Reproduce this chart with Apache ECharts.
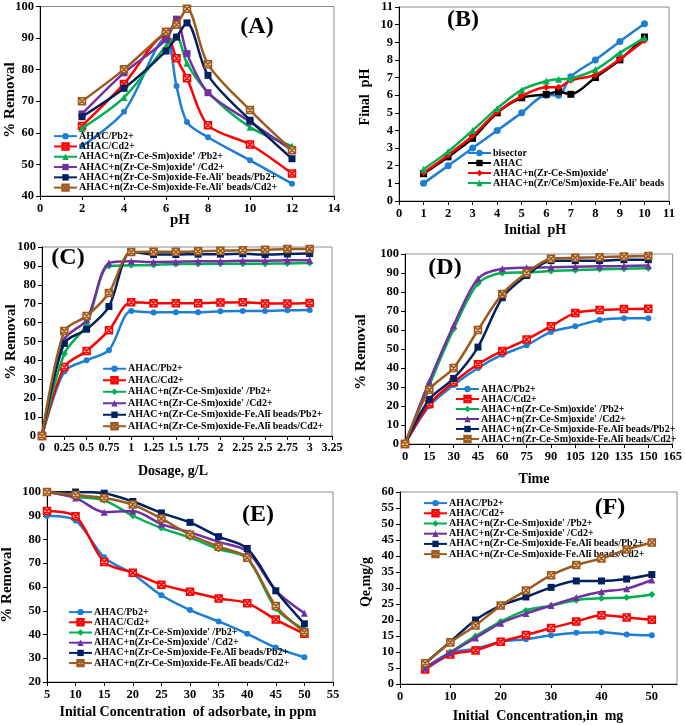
<!DOCTYPE html>
<html><head><meta charset="utf-8">
<script src="https://cdn.jsdelivr.net/npm/echarts@6/dist/echarts.min.js"></script>
<style>html,body{margin:0;padding:0;background:#fff}#c{width:685px;height:725px}</style>
</head><body><div id="c"></div>
<script>
// ---------- DATA ----------
const namesA = ['AHAC/Pb2+','AHAC/Cd2+','AHAC+n(Zr-Ce-Sm)oxide\u2019 /Pb2+','AHAC+n(Zr-Ce-Sm)oxide\u2019 /Cd2+',"AHAC+n(Zr-Ce-Sm)oxide-Fe.Ali' beads/Pb2+","AHAC+n(Zr-Ce-Sm)oxide-Fe.Ali' beads/Cd2+"];
const namesCF = ['AHAC/Pb2+','AHAC/Cd2+',"AHAC+n(Zr-Ce-Sm)oxide' /Pb2+","AHAC+n(Zr-Ce-Sm)oxide' /Cd2+",'AHAC+n(Zr-Ce-Sm)oxide-Fe.Alĩ beads/Pb2+','AHAC+n(Zr-Ce-Sm)oxide-Fe.Alĩ beads/Cd2+'];
const namesB = ['bisector','AHAC',"AHAC+n(Zr-Ce-Sm)oxide'","AHAC+n(Zr/Ce/Sm)oxide-Fe.Ali' beads"];

// (A) pH effect
const xA = [2,4,6,6.5,7,8,10,12];
const A_pb   = [55.8,66.7,90.0,74.8,63.4,58.6,51.3,43.9];
const A_cd   = [62.2,75.5,91.0,83.6,77.3,62.4,56.3,47.1];
const A_oxPb = [61.4,71.2,87.5,90.5,82.0,72.8,61.8,55.8];
const A_oxCd = [66.0,79.0,89.5,96.0,85.1,72.7,63.5,54.5];
const A_bdPb = [65.1,74.1,85.9,90.3,94.8,78.2,64.0,51.8];
const A_bdCd = [70.0,80.1,92.0,94.2,99.3,81.7,67.2,54.5];

// (B) initial vs final pH
const xB = [1,2,3,4,5,6,6.5,7,8,9,10];
const B_bis  = [1.0,2.0,3.0,4.0,5.0,6.0,6.0,7.05,8.0,9.05,10.05];
const B_ahac = [1.55,2.5,3.55,5.0,5.85,6.05,6.2,6.05,7.0,8.0,9.3];
const B_ox   = [1.6,2.6,3.7,5.05,5.95,6.45,6.45,6.85,7.15,8.05,9.1];
const B_bd   = [1.8,2.8,4.0,5.25,6.3,6.8,6.9,6.95,7.45,8.4,9.25];

// (C) dosage
const xC = [0,0.25,0.5,0.75,1,1.25,1.5,1.75,2,2.25,2.5,2.75,3];
const C_pb   = [0,34.1,40.1,45.4,66.1,65.4,65.5,65.5,66.0,66.2,66.2,66.5,66.7];
const C_cd   = [0,36.5,45.0,56.0,70.8,70.3,70.3,70.3,70.6,70.8,70.1,70.1,70.4];
const C_oxPb = [0,43.5,59.0,90.0,90.3,90.5,91.0,91.0,91.2,91.2,91.2,91.3,91.5];
const C_oxCd = [0,51.0,61.5,91.5,92.5,92.0,92.2,92.5,92.5,92.7,92.7,93.0,93.0];
const C_bdPb = [0,49.0,56.5,68.5,97.5,96.0,96.0,96.2,96.2,96.4,96.0,96.3,96.5];
const C_bdCd = [0,55.5,63.5,75.7,97.3,97.5,97.5,97.7,98.0,98.3,98.5,99.0,99.0];

// (D) time
const xD = [0,15,30,45,60,75,90,105,120,135,150];
const D_pb   = [0,20.0,31.0,40.0,47.0,52.0,59.0,62.0,65.3,66.2,66.2];
const D_cd   = [0,21.0,32.5,42.0,49.0,55.0,62.0,69.0,70.5,71.0,71.2];
const D_oxPb = [0,31.0,60.5,84.5,90.0,90.3,91.0,91.5,92.0,92.2,92.5];
const D_oxCd = [0,33.0,62.5,87.0,92.2,92.8,93.0,93.3,93.5,93.7,94.0];
const D_bdPb = [0,23.5,34.5,51.0,77.0,88.7,96.5,96.5,96.5,97.0,97.0];
const D_bdCd = [0,28.5,40.0,60.0,79.0,90.0,97.5,98.0,98.3,98.7,99.0];

// (E) initial concentration, % removal
const xE = [5,10,15,20,25,30,35,40,45,50];
const E_pb   = [90.0,88.0,72.5,65.5,56.5,50.3,45.5,40.3,34.5,30.4];
const E_cd   = [92.0,89.8,70.5,66.0,61.0,58.0,55.2,53.2,46.3,40.3];
const E_oxPb = [100,98.0,96.5,90.0,84.8,80.8,76.0,72.0,51.0,42.0];
const E_oxCd = [100,97.5,91.5,92.0,86.5,83.0,79.0,75.0,58.5,49.0];
const E_bdPb = [100,100,99.5,96.0,91.2,87.2,81.2,76.2,58.4,44.5];
const E_bdCd = [100,98.7,97.5,94.7,88.8,82.0,77.0,72.3,52.0,41.0];

// (F) initial concentration, Qe
const xF = [5,10,15,20,25,30,35,40,45,50];
const F_pb   = [5.0,9.7,11.0,13.2,14.0,15.2,16.0,16.2,15.5,15.2];
const F_cd   = [4.5,9.2,10.5,13.2,15.3,17.5,19.5,21.5,20.8,20.1];
const F_oxPb = [5.0,10.0,15.0,19.5,23.0,24.5,26.2,26.8,27.0,28.0];
const F_oxCd = [5.0,9.8,14.4,19.0,22.0,24.5,27.0,28.8,29.8,32.5];
const F_bdPb = [6.5,13.2,20.0,24.5,27.2,30.2,32.2,32.2,32.8,34.2];
const F_bdCd = [6.5,13.0,18.3,24.5,29.2,34.0,37.2,39.2,42.0,44.2];

// ---------- STYLE ----------
const FF = "'Liberation Serif','Times New Roman',serif";
const COLORS = ['#1E7ED4','#FF0000','#00B050','#7030A0','#002060','#9C5A1E'];
const XBOX = 'path://M0,0L10,0L10,10L0,10Z M0,0L10,10 M10,0L0,10';
const symA  = ['circle',XBOX,'triangle','rect','rect',XBOX];
const symCF = ['circle',XBOX,'diamond','triangle','rect',XBOX];
const fillOf = (i, c) => i===1 ? '#ffb0b0' : (i===5 ? '#e9c9a4' : c);

const grids = [
  {left:40, top:5,   width:294, height:191},
  {left:399,top:7,   width:270, height:194},
  {left:42, top:247, width:290, height:189},
  {left:405,top:254, width:268, height:190},
  {left:47, top:492, width:286, height:190},
  {left:400,top:492, width:277, height:192}
].map(g => Object.assign({show:true, borderColor:'#8c8c8c', borderWidth:1, backgroundColor:'#fff'}, g));

function axis(idx, min, max, interval, extra) {
  return Object.assign({
    type:'value', gridIndex:idx, min:min, max:max, interval:interval,
    axisLine:{show:true, onZero:false, lineStyle:{color:'#000', width:1}},
    axisTick:{show:true, inside:false, length:4, lineStyle:{color:'#000'}},
    splitLine:{show:false},
    axisLabel:{color:'#000', fontFamily:FF, fontWeight:'bold', fontSize:12.5, margin:6}
  }, extra || {});
}
const xAxes = [
  axis(0,0,14,2), axis(1,0,11,1), axis(2,0,3.25,0.25,{axisLabel:{color:'#000',fontFamily:FF,fontWeight:'bold',fontSize:12,margin:6}}),
  axis(3,0,165,15), axis(4,5,55,5), axis(5,0,55,10,{axisLabel:{color:'#000',fontFamily:FF,fontWeight:'bold',fontSize:12.5,margin:6,showMaxLabel:false}})
];
const yAxes = [
  axis(0,40,100,10), axis(1,0,11,1), axis(2,0,100,10),
  axis(3,0,100,10), axis(4,20,100,10), axis(5,0,60,5)
];

const series = [];
function addPanel(idx, xs, ys, names, syms, colors) {
  ys.forEach((arr, i) => {
    const c = colors[i];
    series.push({
      type:'line', name:names[i], xAxisIndex:idx, yAxisIndex:idx,
      data: xs.map((x, k) => [x, arr[k]]),
      smooth:0.3, symbol:syms[i], symbolSize: syms[i]==='circle' ? 6 : 7,
      lineStyle:{color:c, width:2.5},
      itemStyle:{color:fillOf(i, c), borderColor:c, borderWidth:(i===1||i===5)?1.5:0},
      z: 2 + i
    });
  });
}
addPanel(0, xA, [A_pb,A_cd,A_oxPb,A_oxCd,A_bdPb,A_bdCd], namesA, symA, COLORS);
addPanel(2, xC, [C_pb,C_cd,C_oxPb,C_oxCd,C_bdPb,C_bdCd], namesCF, symCF, COLORS);
addPanel(3, xD, [D_pb,D_cd,D_oxPb,D_oxCd,D_bdPb,D_bdCd], namesCF, symCF, COLORS);
addPanel(4, xE, [E_pb,E_cd,E_oxPb,E_oxCd,E_bdPb,E_bdCd], namesCF, symCF, COLORS);
addPanel(5, xF, [F_pb,F_cd,F_oxPb,F_oxCd,F_bdPb,F_bdCd], namesCF, symCF, COLORS);
// (B)
const colB = ['#1E7ED4','#000000','#FF0000','#00B050'];
const symB = ['circle','rect','diamond','triangle'];
[B_bis,B_ahac,B_ox,B_bd].forEach((arr,i) => {
  series.push({
    type:'line', name:namesB[i], xAxisIndex:1, yAxisIndex:1,
    data: xB.map((x,k)=>[x,arr[k]]), smooth:0.3, symbol:symB[i], symbolSize:7,
    lineStyle:{color:colB[i], width:2.5}, itemStyle:{color:colB[i]}, z:2+i
  });
});

function legend(names, left, top, lh) {
  return {
    data:names, orient:'vertical', left:left, top:top, padding:0, itemGap:0,
    itemWidth:23, itemHeight:8, selectedMode:false, backgroundColor:'transparent',
    textStyle:{fontFamily:FF, fontWeight:'bold', fontSize:10, color:'#000', lineHeight:lh, padding:[0,0,0,-3]}
  };
}
const legends = [
  legend(namesA, 53, 131, 10.3),
  legend(namesB, 467, 148, 10),
  legend(namesCF, 102, 363, 11.5),
  legend(namesCF, 455, 384, 9.8),
  legend(namesCF, 68, 607, 10.2),
  legend(namesCF, 423, 498, 10.2)
];

function txt(s, x, y, size, rot) {
  return {type:'text', x:x, y:y, rotation: rot ? Math.PI/2 : 0, z:100,
    style:{text:s, fill:'#000', font:'bold '+size+'px '+FF, align:'center', verticalAlign:'middle'}};
}
const graphics = [
  txt('(A)',257,27,24), txt('(B)',463,20,24), txt('(C)',68,258,24),
  txt('(D)',445,268,24), txt('(E)',258,515,24), txt('(F)',610,508,24),
  txt('pH',180,220,15), txt('Initial  pH',535,230,14), txt('Dosage, g/L',173,471,14),
  txt('Time',534,479,14), txt('Initial Concentration  of adsorbate, in ppm',188,712,14),
  txt('Initial  Concentration,in  mg',538,716,14),
  txt('% Removal',10,100,15,true), txt('Final  pH',365,97,14,true),
  txt('% Removal',11,342,15,true), txt('% Removal',361,352,15,true),
  txt('% Removal',7,585,15,true), txt('Qe,mg/g',366,582,14,true)
];

const chart = echarts.init(document.getElementById('c'), null, {renderer:'canvas'});
chart.setOption({
  backgroundColor:'#fff', animation:false,
  grid:grids, xAxis:xAxes, yAxis:yAxes, legend:legends, series:series, graphic:graphics
});
</script></body></html>
